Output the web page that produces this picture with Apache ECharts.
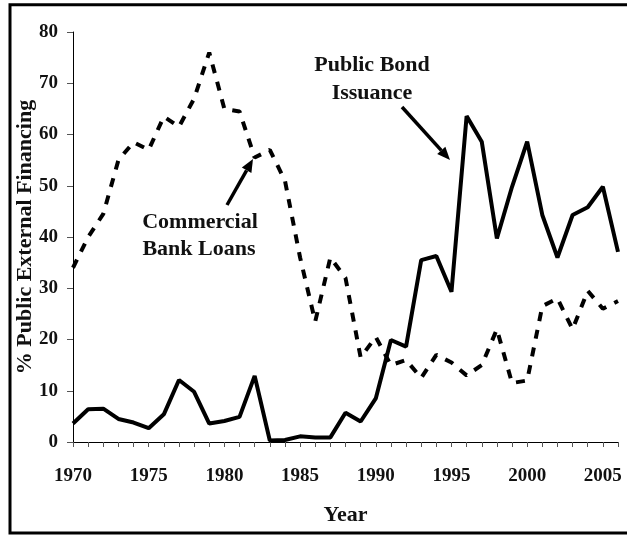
<!DOCTYPE html>
<html>
<head>
<meta charset="utf-8">
<script src="https://cdn.jsdelivr.net/npm/echarts@6/dist/echarts.min.js"></script>
<style>html,body{margin:0;padding:0;background:#fff}#c{width:627px;height:535px}</style>
</head>
<body>
<div id="c"></div>
<script>
var years = [];
for (var y = 1970; y <= 2006; y++) years.push(String(y));
var bondIssuance = [3.6,6.4,6.5,4.5,3.8,2.7,5.4,12.1,9.8,3.6,4.1,4.9,12.9,0.3,0.4,1.1,0.9,0.9,5.7,4.0,8.5,19.9,18.6,35.5,36.3,29.3,63.6,58.6,39.7,49.8,58.6,44.3,36.0,44.3,45.8,49.8,37.1];
var bankLoans = [34,40,44.5,55,58.5,57,63.5,61.5,67,76,65,64.5,55.5,57,51,36,23.5,36,32,16.5,20.5,15,16,12.5,17,15.5,13,15,22,11.5,12,26.5,28,22,29.5,26,27.5];
var yTicks = {min:0, max:80, interval:10};

var FONT = '"Liberation Serif", "DejaVu Serif", serif';

function arrow(x1,y1,x2,y2){
  var dx=x2-x1, dy=y2-y1, L=Math.sqrt(dx*dx+dy*dy), ux=dx/L, uy=dy/L;
  var hl=13, hw=5.5;
  var bx=x2-ux*hl, by=y2-uy*hl, px=-uy*hw, py=ux*hw;
  return [
    {type:'line', shape:{x1:x1,y1:y1,x2:bx,y2:by}, style:{stroke:'#000', lineWidth:3.5}},
    {type:'polygon', shape:{points:[[x2,y2],[bx+px,by+py],[bx-px,by-py]]}, style:{fill:'#000'}}
  ];
}

var chart = echarts.init(document.getElementById('c'));
var graphics = [
  {type:'rect', shape:{x:10, y:4.7, width:630, height:528.3}, style:{fill:'none', stroke:'#000', lineWidth:3}},
  {type:'text', x:372, y:65, style:{text:'Public Bond', font:'bold 22px '+FONT, fill:'#111', align:'center', verticalAlign:'middle'}},
  {type:'text', x:372, y:93, style:{text:'Issuance', font:'bold 22px '+FONT, fill:'#111', align:'center', verticalAlign:'middle'}},
  {type:'text', x:200, y:222, style:{text:'Commercial', font:'bold 22px '+FONT, fill:'#111', align:'center', verticalAlign:'middle'}},
  {type:'text', x:199, y:249, style:{text:'Bank Loans', font:'bold 22px '+FONT, fill:'#111', align:'center', verticalAlign:'middle'}}
].concat(arrow(402,107,450,160)).concat(arrow(227,205,253,159));

chart.setOption({
  animation:false,
  backgroundColor:'#fff',
  grid:{left:73, right:9, top:32, bottom:93},
  xAxis:{
    type:'category', data:years, boundaryGap:false,
    name:'Year', nameLocation:'middle', nameGap:62, nameMoveOverlap:false,
    nameTextStyle:{fontFamily:FONT, fontWeight:'bold', fontSize:22, color:'#111'},
    axisLine:{lineStyle:{color:'#000', width:1}},
    axisTick:{interval:0, length:5, lineStyle:{color:'#555'}},
    axisLabel:{interval:4, margin:25, fontFamily:FONT, fontWeight:'bold', fontSize:19, color:'#111'},
    splitLine:{show:false}
  },
  yAxis:{
    type:'value', min:yTicks.min, max:yTicks.max, interval:yTicks.interval,
    name:'% Public External Financing', nameLocation:'middle', nameGap:37, nameMoveOverlap:false,
    nameTextStyle:{fontFamily:FONT, fontWeight:'bold', fontSize:22, color:'#111'},
    axisLine:{show:true, lineStyle:{color:'#000', width:1}},
    axisTick:{show:true, length:6, lineStyle:{color:'#555'}},
    axisLabel:{margin:15, fontFamily:FONT, fontWeight:'bold', fontSize:19, color:'#111'},
    splitLine:{show:false}
  },
  series:[
    {name:'Public Bond Issuance', type:'line', data:bondIssuance, symbol:'none',
     lineStyle:{color:'#000', width:4}},
    {name:'Commercial Bank Loans', type:'line', data:bankLoans, symbol:'none',
     lineStyle:{color:'#000', width:4, type:[9,9]}}
  ],
  graphic:graphics
});
</script>
</body>
</html>
